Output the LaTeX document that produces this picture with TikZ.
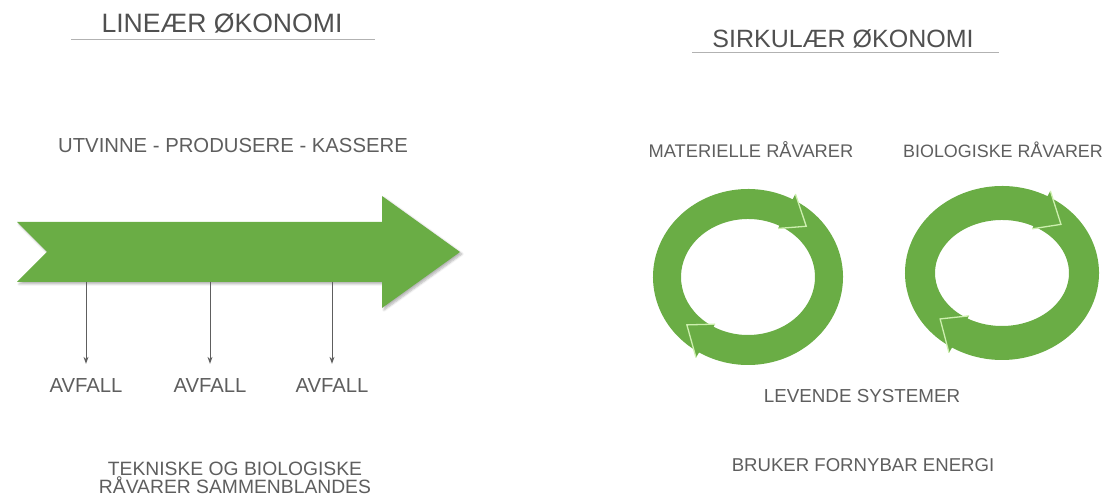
\documentclass[tikz,border=0pt]{standalone}
\usepackage{fontspec}
\setmainfont{Liberation Sans}
\usetikzlibrary{arrows.meta,shadows.blur}
\definecolor{leaf}{HTML}{6AAD45}
\definecolor{leafedge}{HTML}{CDEFAE}
\definecolor{ink}{HTML}{5E5E5E}

\begin{document}
\begin{tikzpicture}
        [x=1pt, y=1pt,
        heading/.style={text=ink!85!black, font=\fontsize{25}{30}\selectfont, anchor=base, inner sep=0pt},
        txt/.style={text=ink, font=\fontsize{18.6}{22}\selectfont, anchor=base, inner sep=0pt},
        bigtxt/.style={text=ink, font=\fontsize{20.3}{24}\selectfont, anchor=base, inner sep=0pt},
        waste/.style={draw=ink, line width=0.9pt, -{Stealth[length=7pt,width=5pt]}, shorten >=15pt},
        rule/.style={draw=black!30, line width=1pt},
        ringedge/.style={draw=leafedge, line width=1.3pt}]
        \useasboundingbox (0,0) rectangle (1117,503);

        % left side
        \node[heading, font=\fontsize{26.6}{30}\selectfont] (lin) at (222,470) {LINEÆR ØKONOMI};
        \draw[rule] (71,463) -- (375,463);
        \node[bigtxt] (steps) at (233,350) {UTVINNE - PRODUSERE - KASSERE};

        \fill[leaf, blur shadow={shadow xshift=2pt, shadow yshift=-2pt, shadow blur steps=6, shadow opacity=30}]
            (17,281) -- (382,281) -- (382,307) -- (460,251) -- (382,195) -- (382,221) -- (17,221) -- (47,251) -- cycle;
        \coordinate (w1) at (86,221);
        \coordinate (w2) at (210,221);
        \coordinate (w3) at (332,221);

        \node[bigtxt] (av1) at (86,110) {AVFALL};
        \node[bigtxt] (av2) at (210,110) {AVFALL};
        \node[bigtxt] (av3) at (332,110) {AVFALL};
        \draw[waste] (w1) -- (av1.north);
        \draw[waste] (w2) -- (av2.north);
        \draw[waste] (w3) -- (av3.north);

        \node[txt, font=\fontsize{19.3}{18}\selectfont, align=center, anchor=north] (mix) at (235,41.5)
            {TEKNISKE OG BIOLOGISKE\\RÅVARER SAMMENBLANDES};

        % right side
        \node[heading] (sirk) at (843,455) {SIRKULÆR ØKONOMI};
        \draw[rule] (692,450) -- (999,450);
        \node[txt, font=\fontsize{18.3}{22}\selectfont] (mat) at (751,345) {MATERIELLE RÅVARER};
        \node[txt, font=\fontsize{17.9}{22}\selectfont] (bio) at (1003,345) {BIOLOGISKE RÅVARER};

        \foreach \cx/\cy/\ox/\oy/\ix/\iy in {748/226/95/88/67/58, 1002/230/97/87/67/53} {
          \begin{scope}[shift={(\cx,\cy)}]
            % upper arc, arrow at top right
            \fill[leaf] ({\ox*cos(239)},{\oy*sin(239)}) arc[start angle=239, end angle=62, x radius=\ox, y radius=\oy]
                -- ({(\ox+6)*cos(62)},{(\oy+6)*sin(62)})
                -- ({(\ox+\ix)/2*cos(44)},{(\oy+\iy)/2*sin(44)})
                -- ({(\ix-3)*cos(62)},{(\iy-3)*sin(62)})
                -- ({\ix*cos(62)},{\iy*sin(62)}) arc[start angle=62, end angle=239, x radius=\ix, y radius=\iy] -- cycle;
            % lower arc, arrow at bottom left
            \fill[leaf] ({\ox*cos(62)},{\oy*sin(62)}) arc[start angle=62, end angle=-121, x radius=\ox, y radius=\oy]
                -- ({(\ox+6)*cos(-121)},{(\oy+6)*sin(-121)})
                -- ({(\ox+\ix)/2*cos(-139)},{(\oy+\iy)/2*sin(-139)})
                -- ({(\ix-3)*cos(-121)},{(\iy-3)*sin(-121)})
                -- ({\ix*cos(-121)},{\iy*sin(-121)}) arc[start angle=-121, end angle=62, x radius=\ix, y radius=\iy] -- cycle;
            \draw[ringedge] ({(\ox+6)*cos(62)},{(\oy+6)*sin(62)})
                -- ({(\ox+\ix)/2*cos(44)},{(\oy+\iy)/2*sin(44)})
                -- ({(\ix-3)*cos(62)},{(\iy-3)*sin(62)});
            \draw[ringedge] ({(\ox+6)*cos(-121)},{(\oy+6)*sin(-121)})
                -- ({(\ox+\ix)/2*cos(-139)},{(\oy+\iy)/2*sin(-139)})
                -- ({(\ix-3)*cos(-121)},{(\iy-3)*sin(-121)});
          \end{scope}
        }

        \node[txt, font=\fontsize{18.8}{22}\selectfont] (liv) at (862,100) {LEVENDE SYSTEMER};
        \node[txt] (energi) at (863,31) {BRUKER FORNYBAR ENERGI};
\end{tikzpicture}
\end{document}
